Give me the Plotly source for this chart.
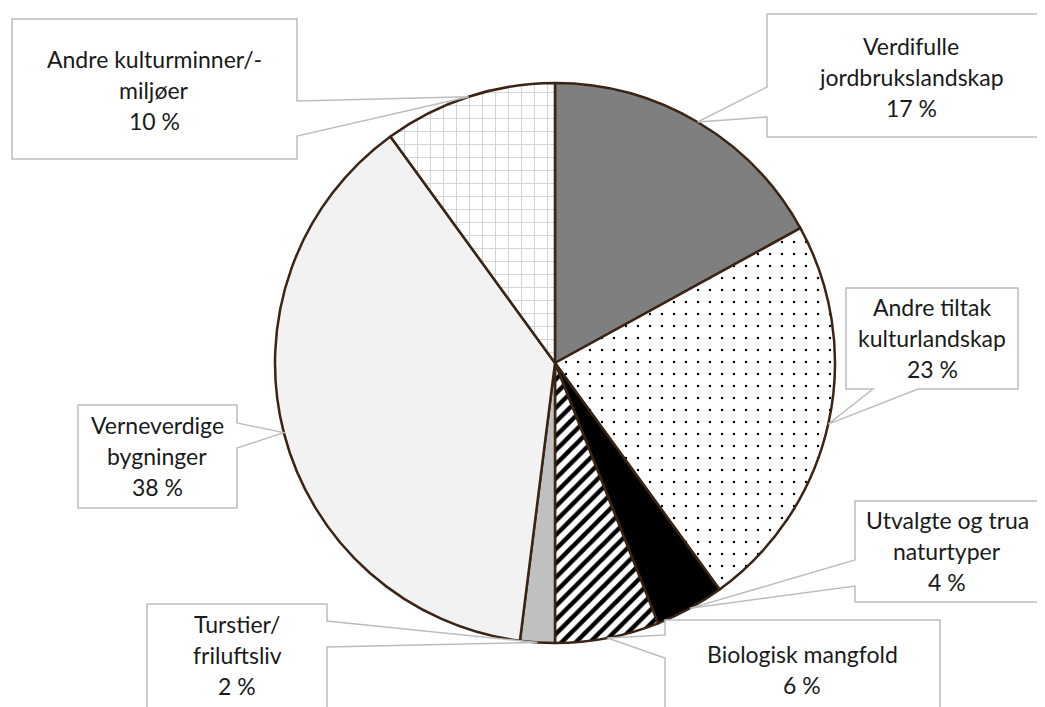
import math
import plotly.graph_objects as go

W, H = 1045, 707
OFF = 8  # page body margin

# data (clockwise from 12 o'clock)
labels = ["Verdifulle<br>jordbrukslandskap", "Andre tiltak<br>kulturlandskap",
          "Utvalgte og trua<br>naturtyper", "Biologisk mangfold",
          "Turstier/<br>friluftsliv", "Verneverdige<br>bygninger",
          "Andre kulturminner/-<br>miljøer"]
values = [17, 23, 4, 6, 2, 38, 10]

# styles per slice
colors = ["#7f7f7f", "#ffffff", "#000000", "#ffffff", "#c0c0c0", "#f2f2f2", "#ffffff"]
shapes_pat = ["", ".", "", "/", "", "", "+"]
pat_fg = ["#000", "#000", "#000", "#000", "#000", "#000", "#cfcfcf"]
pat_size = [8, 12, 8, 10, 8, 8, 13]
pat_solid = [0.3, 0.03, 0.3, 0.45, 0.3, 0.3, 0.13]

# pie geometry in pixels
cx, cy, R = 555, 363, 280

# callout boxes: x0, y0, x1, y1, edge, a, b, text centre (x, y)
boxes = [
    (767, 14, 1060, 137, "left", 87, 117, 911, 77),
    (846, 288, 1018, 389, "bottom", 873, 918, 932, 338),
    (855, 501, 1039, 602, "left", 560, 586, 947, 551),
    (665, 620, 940, 720, "left", 635, 658, 802, 669),
    (147, 604, 327, 720, "right", 621, 647, 237, 655),
    (78, 405, 237, 508, "right", 423, 448, 157, 456),
    (12, 19, 297, 159, "right", 101, 136, 154, 90),
]


def px(x, y):
    return (x - OFF) / W, 1 - (y - OFF) / H


fig = go.Figure(go.Pie(
    labels=labels, values=values, sort=False, direction="clockwise", rotation=0,
    textinfo="none", hoverinfo="label+percent",
    marker=dict(colors=colors, line=dict(color="#3a2415", width=2.5),
                pattern=dict(shape=shapes_pat, fgcolor=pat_fg, bgcolor=colors,
                             size=pat_size, solidity=pat_solid, fgopacity=1,
                             fillmode="overlay")),
    domain=dict(x=[(cx - R - OFF) / W, (cx + R - OFF) / W],
                y=[1 - (cy + R - OFF) / H, 1 - (cy - R - OFF) / H]),
))

shapes = []
annotations = []
total = sum(values)
cum = 0
for lab, v, box in zip(labels, values, boxes):
    mid = (cum + v / 2) / total * 2 * math.pi
    cum += v
    tx, ty = cx + R * math.sin(mid), cy - R * math.cos(mid)
    x0, y0, x1, y1, edge, a, b, tcx, tcy = box
    if edge == "left":
        pts = [(x0, y0), (x1, y0), (x1, y1), (x0, y1), (x0, b), (tx, ty), (x0, a)]
    elif edge == "right":
        pts = [(x0, y0), (x1, y0), (x1, a), (tx, ty), (x1, b), (x1, y1), (x0, y1)]
    else:
        pts = [(x0, y0), (x1, y0), (x1, y1), (b, y1), (tx, ty), (a, y1), (x0, y1)]
    path = "M " + " L ".join("%.5f,%.5f" % px(*p) for p in pts) + " Z"
    shapes.append(dict(type="path", path=path, xref="paper", yref="paper",
                       fillcolor="white", line=dict(color="#bdbdbd", width=1.5),
                       layer="above"))
    lines = lab.split("<br>") + ["%d %%" % v]
    n = len(lines)
    for i, t in enumerate(lines):
        yy = tcy + (i - (n - 1) / 2) * 31
        X, Y = px(tcx, yy)
        annotations.append(dict(x=X, y=Y, xref="paper", yref="paper", text=t,
                                showarrow=False, xanchor="center", yanchor="middle",
                                font=dict(family="Lato", size=23, color="#1a1a1a")))

fig.update_layout(width=W, height=H, margin=dict(l=0, r=0, t=0, b=0),
                  paper_bgcolor="white", plot_bgcolor="white", showlegend=False,
                  shapes=shapes, annotations=annotations)
fig.write_html("out.html")
